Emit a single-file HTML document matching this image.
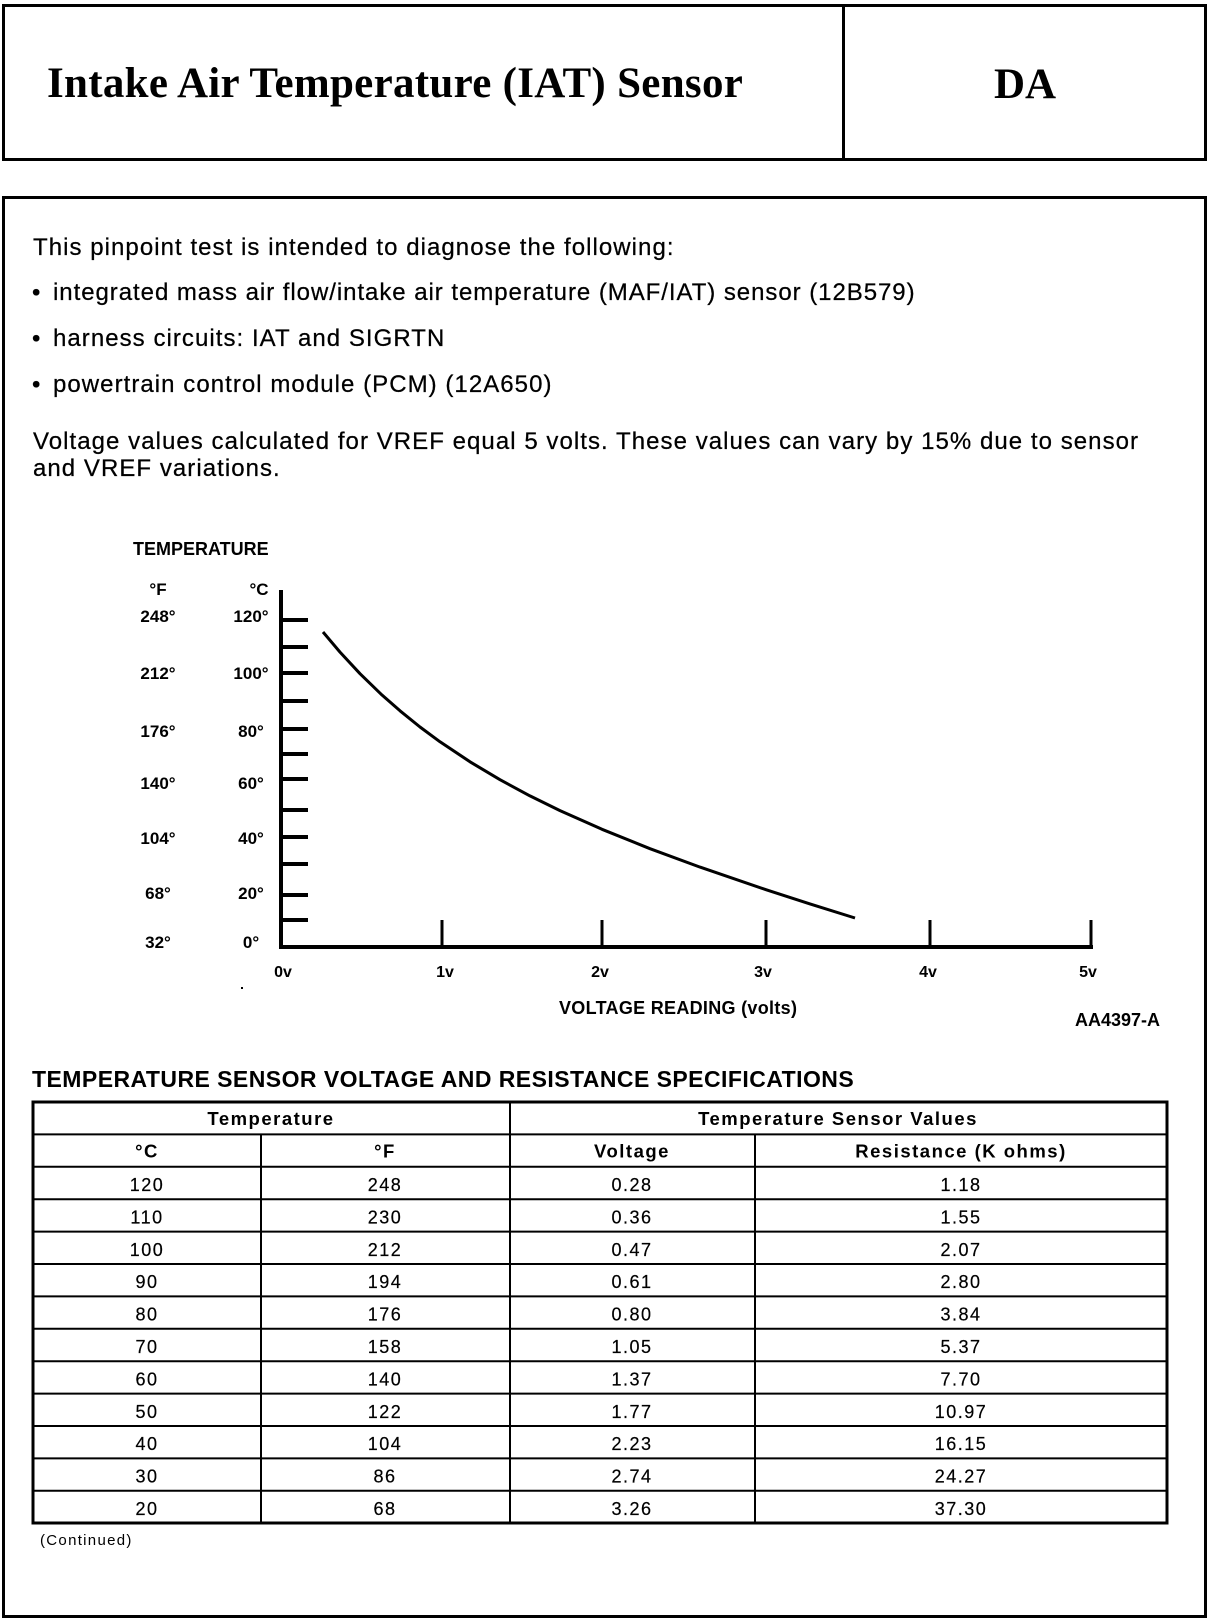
<!DOCTYPE html>
<html><head><meta charset="utf-8">
<style>
html,body{margin:0;padding:0;background:#fff;}
svg{display:block;}
.b{font-family:"Liberation Sans",Arial,sans-serif;font-size:24px;letter-spacing:1.05px;fill:#000;stroke:#000;stroke-width:0.25px;}
.cl{font-family:"Liberation Sans",Arial,sans-serif;font-weight:bold;font-size:17px;fill:#000;}
.td{font-family:"Liberation Sans",Arial,sans-serif;font-size:18px;letter-spacing:1.5px;fill:#000;stroke:#000;stroke-width:0.2px;}
.th{font-family:"Liberation Sans",Arial,sans-serif;font-weight:bold;font-size:18.5px;letter-spacing:1.5px;fill:#000;}
</style></head>
<body>
<svg width="1216" height="1622" viewBox="0 0 1216 1622" xmlns="http://www.w3.org/2000/svg">
<rect x="0" y="0" width="1216" height="1622" fill="#fff"/>
<!-- Header box -->
<rect x="3.5" y="5.5" width="1202" height="154" fill="none" stroke="#000" stroke-width="3"/>
<line x1="843.5" y1="5" x2="843.5" y2="160" stroke="#000" stroke-width="3"/>
<text x="47" y="97" style="font-family:'Liberation Serif','Times New Roman',serif;font-weight:bold;font-size:43px;letter-spacing:0.3px;fill:#000">Intake Air Temperature (IAT) Sensor</text>
<text x="1025" y="98" text-anchor="middle" style="font-family:'Liberation Serif','Times New Roman',serif;font-weight:bold;font-size:43px;fill:#000">DA</text>

<!-- Main box -->
<rect x="3.5" y="197.5" width="1202" height="1419" fill="none" stroke="#000" stroke-width="3"/>

<text class="b" x="33" y="255">This pinpoint test is intended to diagnose the following:</text>
<text class="b" x="32" y="300">•</text>
<text class="b" x="53" y="300" style="letter-spacing:0.95px">integrated mass air flow/intake air temperature (MAF/IAT) sensor (12B579)</text>
<text class="b" x="32" y="346">•</text>
<text class="b" x="53" y="346">harness circuits: IAT and SIGRTN</text>
<text class="b" x="32" y="392">•</text>
<text class="b" x="53" y="392">powertrain control module (PCM) (12A650)</text>
<text class="b" x="33" y="449">Voltage values calculated for VREF equal 5 volts. These values can vary by 15% due to sensor</text>
<text class="b" x="33" y="476">and VREF variations.</text>

<!-- Chart -->
<text class="cl" x="133" y="555" style="font-size:18px">TEMPERATURE</text>
<text class="cl" x="158" y="595" text-anchor="middle">°F</text>
<text class="cl" x="259" y="595" text-anchor="middle">°C</text>

<g class="cl" text-anchor="middle">
<text x="158" y="622">248°</text>
<text x="158" y="679">212°</text>
<text x="158" y="737">176°</text>
<text x="158" y="789">140°</text>
<text x="158" y="844">104°</text>
<text x="158" y="899">68°</text>
<text x="158" y="948">32°</text>
<text x="251" y="622">120°</text>
<text x="251" y="679">100°</text>
<text x="251" y="737">80°</text>
<text x="251" y="789">60°</text>
<text x="251" y="844">40°</text>
<text x="251" y="899">20°</text>
<text x="251" y="948">0°</text>
</g>

<!-- axes -->
<line x1="281" y1="590" x2="281" y2="949" stroke="#000" stroke-width="4"/>
<line x1="279" y1="947" x2="1093" y2="947" stroke="#000" stroke-width="4"/>
<g stroke="#000" stroke-width="4">
<line x1="281" y1="620" x2="308" y2="620"/>
<line x1="281" y1="647" x2="308" y2="647"/>
<line x1="281" y1="673" x2="308" y2="673"/>
<line x1="281" y1="701" x2="308" y2="701"/>
<line x1="281" y1="729" x2="308" y2="729"/>
<line x1="281" y1="754" x2="308" y2="754"/>
<line x1="281" y1="779" x2="308" y2="779"/>
<line x1="281" y1="810" x2="308" y2="810"/>
<line x1="281" y1="837" x2="308" y2="837"/>
<line x1="281" y1="864" x2="308" y2="864"/>
<line x1="281" y1="895" x2="308" y2="895"/>
<line x1="281" y1="920" x2="308" y2="920"/>
</g>
<g stroke="#000" stroke-width="3">
<line x1="442" y1="920" x2="442" y2="947"/>
<line x1="602" y1="920" x2="602" y2="947"/>
<line x1="766" y1="920" x2="766" y2="947"/>
<line x1="930" y1="920" x2="930" y2="947"/>
<line x1="1091" y1="920" x2="1091" y2="947"/>
</g>
<g class="cl" text-anchor="middle" style="font-size:16px">
<text x="283" y="977">0v</text>
<text x="445" y="977">1v</text>
<text x="600" y="977">2v</text>
<text x="763" y="977">3v</text>
<text x="928" y="977">4v</text>
<text x="1088" y="977">5v</text>
</g>
<polyline fill="none" stroke="#000" stroke-width="3" stroke-linejoin="round"
 points="323,632 340,652.1 360,673.7 381,694.1 400,710.8 420,727 440,741.8 470,761.8 500,779.7 530,795.9 560,810.6 602,829.3 650,848.7 700,867.1 766,889.7 810,903.9 855,918"/>
<rect x="241" y="987" width="2" height="2" fill="#000"/>
<text class="cl" x="559" y="1014" style="font-size:18px;letter-spacing:0.3px">VOLTAGE READING (volts)</text>
<text class="cl" x="1075" y="1026" style="font-size:18px">AA4397-A</text>

<!-- Table heading -->
<text x="32" y="1087" style="font-family:'Liberation Sans',Arial,sans-serif;font-weight:bold;font-size:23px;letter-spacing:0.45px;fill:#000">TEMPERATURE SENSOR VOLTAGE AND RESISTANCE SPECIFICATIONS</text>

<!-- Table lines -->
<g stroke="#000" stroke-width="2">
<line x1="33" y1="1134.4" x2="1167" y2="1134.4"/>
<line x1="33" y1="1166.8" x2="1167" y2="1166.8"/>
<line x1="33" y1="1199.2" x2="1167" y2="1199.2"/>
<line x1="33" y1="1231.6" x2="1167" y2="1231.6"/>
<line x1="33" y1="1264" x2="1167" y2="1264"/>
<line x1="33" y1="1296.4" x2="1167" y2="1296.4"/>
<line x1="33" y1="1328.8" x2="1167" y2="1328.8"/>
<line x1="33" y1="1361.2" x2="1167" y2="1361.2"/>
<line x1="33" y1="1393.6" x2="1167" y2="1393.6"/>
<line x1="33" y1="1426" x2="1167" y2="1426"/>
<line x1="33" y1="1458.4" x2="1167" y2="1458.4"/>
<line x1="33" y1="1490.8" x2="1167" y2="1490.8"/>
<line x1="510" y1="1102" x2="510" y2="1523"/>
<line x1="261" y1="1134.4" x2="261" y2="1523"/>
<line x1="755" y1="1134.4" x2="755" y2="1523"/>
</g>
<rect x="33" y="1102" width="1134" height="421" fill="none" stroke="#000" stroke-width="3"/>

<g class="th" text-anchor="middle">
<text x="271" y="1125">Temperature</text>
<text x="838" y="1125">Temperature Sensor Values</text>
<text x="147" y="1157.5">°C</text>
<text x="385" y="1157.5">°F</text>
<text x="632" y="1157.5">Voltage</text>
<text x="961" y="1157.5">Resistance (K ohms)</text>
</g>

<g class="td" text-anchor="middle">
<text x="147" y="1191">120</text><text x="385" y="1191">248</text><text x="632" y="1191">0.28</text><text x="961" y="1191">1.18</text>
<text x="147" y="1223.4">110</text><text x="385" y="1223.4">230</text><text x="632" y="1223.4">0.36</text><text x="961" y="1223.4">1.55</text>
<text x="147" y="1255.8">100</text><text x="385" y="1255.8">212</text><text x="632" y="1255.8">0.47</text><text x="961" y="1255.8">2.07</text>
<text x="147" y="1288.2">90</text><text x="385" y="1288.2">194</text><text x="632" y="1288.2">0.61</text><text x="961" y="1288.2">2.80</text>
<text x="147" y="1320.6">80</text><text x="385" y="1320.6">176</text><text x="632" y="1320.6">0.80</text><text x="961" y="1320.6">3.84</text>
<text x="147" y="1353">70</text><text x="385" y="1353">158</text><text x="632" y="1353">1.05</text><text x="961" y="1353">5.37</text>
<text x="147" y="1385.4">60</text><text x="385" y="1385.4">140</text><text x="632" y="1385.4">1.37</text><text x="961" y="1385.4">7.70</text>
<text x="147" y="1417.8">50</text><text x="385" y="1417.8">122</text><text x="632" y="1417.8">1.77</text><text x="961" y="1417.8">10.97</text>
<text x="147" y="1450.2">40</text><text x="385" y="1450.2">104</text><text x="632" y="1450.2">2.23</text><text x="961" y="1450.2">16.15</text>
<text x="147" y="1482.6">30</text><text x="385" y="1482.6">86</text><text x="632" y="1482.6">2.74</text><text x="961" y="1482.6">24.27</text>
<text x="147" y="1515">20</text><text x="385" y="1515">68</text><text x="632" y="1515">3.26</text><text x="961" y="1515">37.30</text>
</g>

<text x="40" y="1545" style="font-family:'Liberation Sans',Arial,sans-serif;font-size:15px;letter-spacing:1.3px;fill:#000">(Continued)</text>
</svg>
</body></html>
